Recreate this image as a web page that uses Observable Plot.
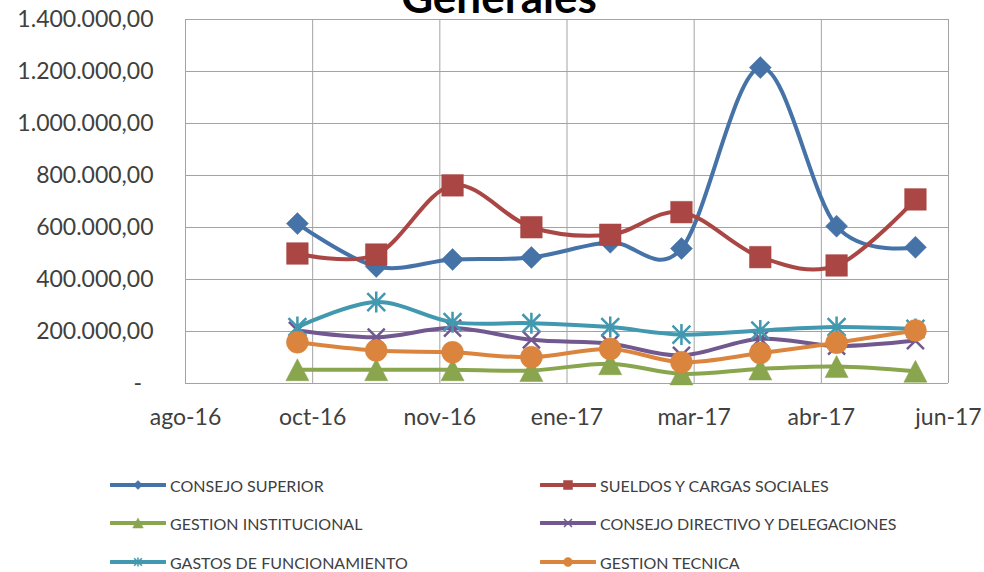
<!DOCTYPE html>
<html>
<head>
<meta charset="utf-8">
<script src="https://cdn.jsdelivr.net/npm/d3@7"></script>
<script src="https://cdn.jsdelivr.net/npm/@observablehq/plot@0.6"></script>
<style>
  body { margin: 0; background: #fff; }
  #wrap { position: relative; width: 984px; height: 572px; overflow: hidden; font-family: Lato, sans-serif; background:#fff; }
  #title { position: absolute; left: 499px; top: -26px; transform: translateX(-50%); font-size: 44px; font-weight: bold; line-height: 1; color: #000; white-space: nowrap; }
  #chart { position: absolute; left: 0; top: 0; }
  .leg { position: absolute; display: flex; align-items: center; font-size: 16px; color: #404040; white-space: nowrap; height: 20px; }
  .leg svg { margin-right: 4px; }
</style>
</head>
<body>
<div id="wrap">
  <div id="chart"></div>
  <div id="title">Generales</div>
  <div id="legend"></div>
</div>
<script>
// ---- data ----
const months = ["2016-09-30","2016-10-31","2016-11-30","2016-12-31","2017-01-31","2017-02-28","2017-03-31","2017-04-30","2017-05-31"];
const seriesNames = ["CONSEJO SUPERIOR","SUELDOS Y CARGAS SOCIALES","GESTION INSTITUCIONAL","CONSEJO DIRECTIVO Y DELEGACIONES","GASTOS DE FUNCIONAMIENTO","GESTION TECNICA"];
const consejoSuperior  = [615000, 450000, 477000, 485000, 543000, 519000, 1215000, 605000, 524000];
const sueldosCargas    = [500000, 496000, 762000, 601000, 572000, 659000, 486000, 454000, 708000];
const gestionInst      = [53000, 53000, 53000, 50000, 76000, 37000, 56000, 65000, 47000];
const consejoDirectivo = [204000, 178000, 213000, 168000, 153000, 108000, 172000, 144000, 165000];
const gastosFunc       = [217000, 313000, 236000, 232000, 217000, 188000, 204000, 217000, 210000];
const gestionTecnica   = [159000, 127000, 120000, 101000, 133000, 82000, 117000, 157000, 204000];
const xTickDates  = ["2016-08-17","2016-10-06","2016-11-25","2017-01-14","2017-03-05","2017-04-24","2017-06-13"];
const xTickLabels = ["ago-16","oct-16","nov-16","ene-17","mar-17","abr-17","jun-17"];
const yTicks = [0, 200000, 400000, 600000, 800000, 1000000, 1200000, 1400000];

// ---- styling ----
const colors = ["#4572A7","#AA4643","#89A54E","#71588F","#4198AF","#DB843D"];

function mk(fn){ return { draw(ctx, size){ const r = Math.sqrt(size/Math.PI); fn(ctx, r); } }; }
const symDiamond  = mk((c,r)=>{ c.moveTo(0,-r); c.lineTo(r,0); c.lineTo(0,r); c.lineTo(-r,0); c.closePath(); });
const symSquare   = mk((c,r)=>{ c.rect(-r,-r,2*r,2*r); });
const symTriangle = mk((c,r)=>{ c.moveTo(0,-r); c.lineTo(r*1.05,r); c.lineTo(-r*1.05,r); c.closePath(); });
const symTimes    = mk((c,r)=>{ c.moveTo(-r,-r); c.lineTo(r,r); c.moveTo(-r,r); c.lineTo(r,-r); });
const symStar     = mk((c,r)=>{ c.moveTo(-r*0.85,-r*0.85); c.lineTo(r*0.85,r*0.85); c.moveTo(-r*0.85,r*0.85); c.lineTo(r*0.85,-r*0.85); c.moveTo(0,-r); c.lineTo(0,r); });
const symCircle   = mk((c,r)=>{ c.moveTo(r,0); c.arc(0,0,r,0,2*Math.PI); });

const seriesValues = [consejoSuperior, sueldosCargas, gestionInst, consejoDirectivo, gastosFunc, gestionTecnica];
const symbols = [symDiamond, symSquare, symTriangle, symTimes, symStar, symCircle];
const sizes   = [11, 10.8, 11, 8.5, 10.5, 11];
const legSizes= [4.5, 4.5, 5, 4, 4.5, 4.5];
const filled  = [true, true, true, false, false, true];

const parse = d3.utcParse("%Y-%m-%d");
const xTicks = xTickDates.map(parse);
const loc = d3.formatLocale({decimal: ",", thousands: ".", grouping: [3], currency: ["$", ""]});
const fmt = loc.format(",.2f");

const marks = [
  Plot.gridY(yTicks, {stroke: "#a3a3a3", strokeOpacity: 1, strokeWidth: 1}),
  Plot.gridX(xTicks, {stroke: "#a3a3a3", strokeOpacity: 1, strokeWidth: 1}),
  Plot.axisY(yTicks, {label: null, tickSize: 0, tickPadding: 32, fontSize: 23, tickFormat: d => d === 0 ? "-\u2002" : fmt(d)}),
  Plot.axisX(xTicks, {label: null, tickSize: 0, tickPadding: 25, fontSize: 23, tickFormat: d => xTickLabels[xTicks.findIndex(t => +t === +d)]})
];

seriesValues.forEach((vals, i) => {
  const rows = months.map((m, j) => ({date: parse(m), value: vals[j], series: seriesNames[i]}));
  marks.push(Plot.line(rows, {x: "date", y: "value", stroke: colors[i], strokeWidth: 4, curve: "cardinal"}));
  marks.push(Plot.dot(rows, {
    x: "date", y: "value", symbol: symbols[i], r: sizes[i],
    fill: filled[i] ? colors[i] : "none",
    stroke: colors[i], strokeWidth: filled[i] ? 0.5 : 2.5
  }));
});

const chart = Plot.plot({
  width: 984, height: 440,
  marginLeft: 185, marginRight: 36, marginTop: 19, marginBottom: 57,
  style: {fontFamily: "Lato, sans-serif", fontSize: "23px", color: "#404040", background: "transparent"},
  x: {type: "utc", domain: [xTicks[0], xTicks[xTicks.length - 1]], axis: null, label: null},
  y: {domain: [0, 1400000], axis: null, label: null},
  marks
});
document.getElementById("chart").appendChild(chart);

// ---- legend ----
const legend = document.getElementById("legend");
const legPos = [[110,485],[540,485],[110,523],[540,523],[110,562],[540,562]];
seriesNames.forEach((name, i) => {
  const p = d3.path();
  const r = legSizes[i];
  symbols[i].draw(p, Math.PI * r * r);
  const div = document.createElement("div");
  div.className = "leg";
  div.style.left = legPos[i][0] + "px";
  div.style.top = (legPos[i][1] - 10) + "px";
  div.innerHTML = `<svg width="56" height="20" viewBox="0 0 56 20">
      <line x1="1" y1="10" x2="55" y2="10" stroke="${colors[i]}" stroke-width="4" stroke-linecap="round"/>
      <path transform="translate(28,10)" d="${p.toString()}" fill="${filled[i] ? colors[i] : "none"}" stroke="${colors[i]}" stroke-width="${filled[i] ? 0.5 : 1.5}"/>
    </svg><span>${name}</span>`;
  legend.appendChild(div);
});
</script>
</body>
</html>
